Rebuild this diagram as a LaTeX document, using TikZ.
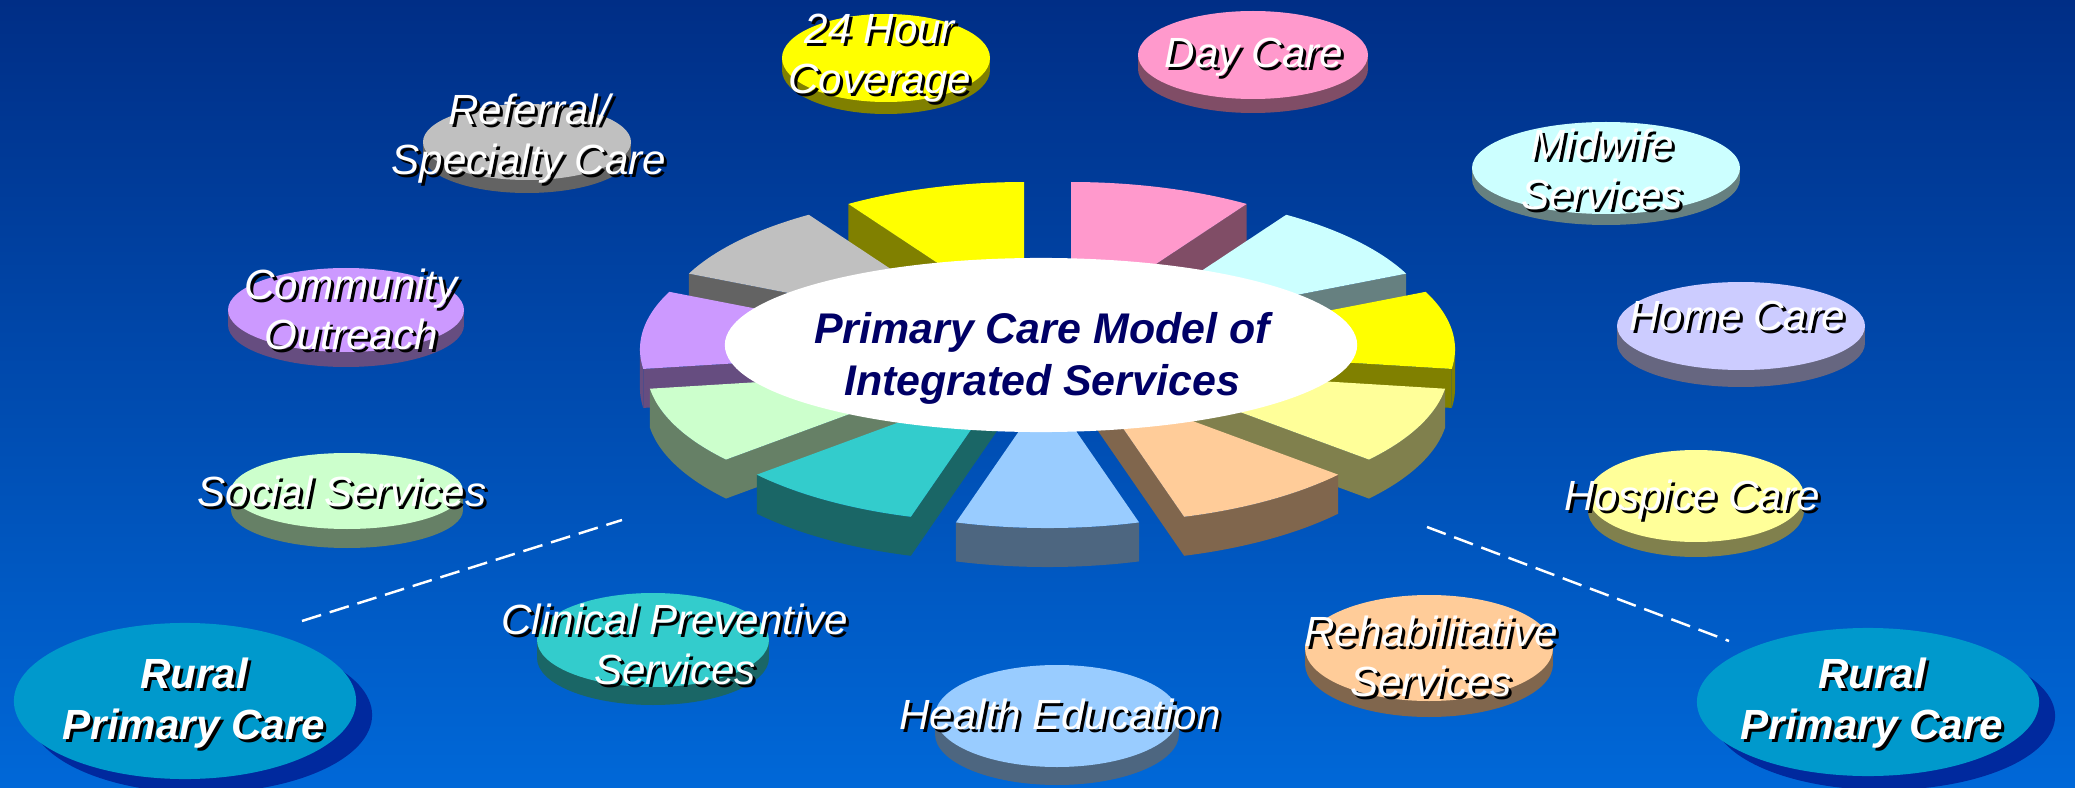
\documentclass[tikz,border=0pt]{standalone}
\usepackage{fontspec}
\newfontfamily\arialf{Liberation Sans}
\usetikzlibrary{shapes.geometric}
\definecolor{bgtop}{RGB}{0,46,134}
\definecolor{bgbot}{RGB}{0,104,216}
\definecolor{cYel}{HTML}{FFFF00}\definecolor{cYelS}{HTML}{808000}
\definecolor{cGry}{HTML}{C0C0C0}\definecolor{cGryS}{HTML}{636363}
\definecolor{cPnk}{HTML}{FF99CC}\definecolor{cPnkS}{HTML}{804D66}
\definecolor{cCyn}{HTML}{CCFFFF}\definecolor{cCynS}{HTML}{668080}
\definecolor{cLav}{HTML}{CCCCFF}\definecolor{cLavS}{HTML}{666680}
\definecolor{cLYl}{HTML}{FFFF99}\definecolor{cLYlS}{HTML}{80804D}
\definecolor{cPch}{HTML}{FFCC99}\definecolor{cPchS}{HTML}{80664D}
\definecolor{cLBl}{HTML}{99CCFF}\definecolor{cLBlS}{HTML}{4D6680}
\definecolor{cTel}{HTML}{33CCCC}\definecolor{cTelS}{HTML}{1A6666}
\definecolor{cLGr}{HTML}{CCFFCC}\definecolor{cLGrS}{HTML}{668066}
\definecolor{cPur}{HTML}{CC99FF}\definecolor{cPurS}{HTML}{664D80}
\definecolor{rural}{HTML}{0099CC}\definecolor{ruralsh}{HTML}{00299E}
\definecolor{navy}{HTML}{000066}
\newcommand\shl[1]{\rlap{\hspace{0.3mm}\raisebox{-0.3mm}{\color{black}#1}}#1}
\def\PieCX{1047.5}\def\PieCY{354.3}\def\PieR{325}\def\PieK{0.4254}\def\PieE{83.4}\def\PieH{39}
\newcommand\pslice[4]{%
  \pgfmathsetmacro\slM{(#1+#2)/2}%
  \pgfmathsetmacro\slX{\PieCX+\PieE*cos(\slM)}%
  \pgfmathsetmacro\slY{\PieCY-\PieK*\PieE*sin(\slM)}%
  \pgfmathsetmacro\slA{max(#1,-180)}%
  \pgfmathsetmacro\slB{min(#2,0)}%
  \pgfmathparse{\slB>\slA ? 1 : 0}%
  \ifdim\pgfmathresult pt>0.5pt
    \fill[#4] plot[domain=\slA:\slB, samples=30] ({\slX+\PieR*cos(\x)},{\slY-\PieK*\PieR*sin(\x)})
      -- plot[domain=\slB:\slA, samples=30] ({\slX+\PieR*cos(\x)},{\slY-\PieK*\PieR*sin(\x)+\PieH}) -- cycle;
  \fi
  \pgfmathparse{cos(#2)<-0.001 ? 1 : 0}%
  \ifdim\pgfmathresult pt>0.5pt
    \fill[#4] (\slX,\slY) -- ({\slX+\PieR*cos(#2)},{\slY-\PieK*\PieR*sin(#2)}) -- ++(0,\PieH) -- (\slX,\slY+\PieH) -- cycle;
  \fi
  \pgfmathparse{cos(#1)>0.001 ? 1 : 0}%
  \ifdim\pgfmathresult pt>0.5pt
    \fill[#4] (\slX,\slY) -- ({\slX+\PieR*cos(#1)},{\slY-\PieK*\PieR*sin(#1)}) -- ++(0,\PieH) -- (\slX,\slY+\PieH) -- cycle;
  \fi
  \fill[#3] (\slX,\slY) -- plot[domain=#1:#2, samples=40] ({\slX+\PieR*cos(\x)},{\slY-\PieK*\PieR*sin(\x)}) -- cycle;
}
\tikzset{
  oval/.style={ellipse, inner sep=0, outer sep=0},
  lbl/.style={text=white, font=\arialf\itshape\fontsize{12}{14.2}\selectfont, align=center, inner sep=0, anchor=north},
  rlbl/.style={lbl, font=\arialf\bfseries\itshape\fontsize{12}{14.5}\selectfont},
  clbl/.style={text=navy, font=\arialf\bfseries\itshape\fontsize{12.2}{14.8}\selectfont, align=center, inner sep=0, anchor=north},
  dashline/.style={draw=white, line width=0.7pt, dash pattern=on 0.2cm off 0.09cm}
}
\newcommand\disc[8]{%
  \node[oval, fill=#8, minimum width=2*#4*0.01cm, minimum height=2*#5*0.01cm] (#1s) at (#2,#3+#6) {};
  \fill[#8] (#2-#4,#3) rectangle (#2+#4,#3+#6);
  \node[oval, fill=#7, minimum width=2*#4*0.01cm, minimum height=2*#5*0.01cm] (#1) at (#2,#3) {};
}
\begin{document}
\begin{tikzpicture}[x=0.01cm,y=-0.01cm]
\useasboundingbox (0,0) rectangle (2075,788);
\clip (0,0) rectangle (2075,788);
\shade[top color=bgtop, bottom color=bgbot] (0,0) rectangle (2075,788);

% pie slices (back to front)
\pslice{90}{122.727}{cYel}{cYelS}
\pslice{57.273}{90}{cPnk}{cPnkS}
\pslice{122.727}{155.455}{cGry}{cGryS}
\pslice{24.545}{57.273}{cCyn}{cCynS}
\pslice{-204.545}{-171.818}{cPur}{cPurS}
\pslice{-8.182}{24.545}{cYel}{cYelS}
\pslice{-40.909}{-8.182}{cLYl}{cLYlS}
\pslice{-171.818}{-139.091}{cLGr}{cLGrS}
\pslice{-73.636}{-40.909}{cPch}{cPchS}
\pslice{-139.091}{-106.364}{cTel}{cTelS}
\pslice{-106.364}{-73.636}{cLBl}{cLBlS}

% centre
\node[oval, fill=white, minimum width=6.32cm, minimum height=1.74cm] (core) at (1041,345) {};
\node[clbl] (coreT) at (1042,312) {Primary Care Model of\\Integrated Services};

% discs
\disc{hr}{886}{58}{104}{44}{12}{cYel}{cYelS}
\disc{ref}{527}{142}{104}{38}{13}{cGry}{cGryS}
\disc{day}{1253}{55}{115}{44}{14}{cPnk}{cPnkS}
\disc{mid}{1606}{168}{134}{46}{11}{cCyn}{cCynS}
\disc{home}{1741}{326}{124}{44}{17}{cLav}{cLavS}
\disc{hosp}{1696}{496}{108}{46}{15}{cLYl}{cLYlS}
\disc{reh}{1429}{648}{124}{53}{16}{cPch}{cPchS}
\disc{hed}{1057}{716}{122}{51}{18}{cLBl}{cLBlS}
\disc{cli}{653}{640}{116}{47}{18}{cTel}{cTelS}
\disc{soc}{347}{491}{116}{38}{19}{cLGr}{cLGrS}
\disc{com}{346}{310}{118}{42}{15}{cPur}{cPurS}

\node[lbl] (hrT) at (880,13) {\shl{24 Hour}\\\shl{Coverage}};
\node[lbl] (refT) at (529,93) {\shl{Referral/}\\\shl{Specialty Care}};
\node[lbl] (dayT) at (1254,37) {\shl{Day Care}};
\node[lbl] (midT) at (1602,128) {\shl{Midwife}\\\shl{Services}};
\node[lbl] (homeT) at (1737,300) {\shl{Home Care}};
\node[lbl] (hospT) at (1692,479) {\shl{Hospice Care}};
\node[lbl] (rehT) at (1431,615) {\shl{Rehabilitative}\\\shl{Services}};
\node[lbl] (hedT) at (1060,698) {\shl{Health Education}};
\node[lbl] (cliT) at (675,603) {\shl{Clinical Preventive}\\\shl{Services}};
\node[lbl] (socT) at (342,475) {\shl{Social Services}};
\node[lbl] (comT) at (351,268) {\shl{Community}\\\shl{Outreach}};

% rural primary care
\node[oval, fill=ruralsh, minimum width=3.42cm, minimum height=1.56cm] (rlS) at (201,715) {};
\node[oval, fill=rural, minimum width=3.42cm, minimum height=1.56cm] (rl) at (185,701) {};
\node[rlbl] (rlT) at (194,657) {\shl{Rural}\\\shl{Primary Care}};
\node[oval, fill=ruralsh, minimum width=3.42cm, minimum height=1.48cm] (rrS) at (1884,716) {};
\node[oval, fill=rural, minimum width=3.42cm, minimum height=1.48cm] (rr) at (1868,702) {};
\node[rlbl] (rrT) at (1872,657) {\shl{Rural}\\\shl{Primary Care}};

% dashed leaders
\coordinate (dlA) at (302,621);
\coordinate (dlB) at (622,520);
\coordinate (drA) at (1427,527);
\coordinate (drB) at (1729,641);
\draw[dashline] (dlA) -- (dlB);
\draw[dashline] (drA) -- (drB);
\end{tikzpicture}
\end{document}
